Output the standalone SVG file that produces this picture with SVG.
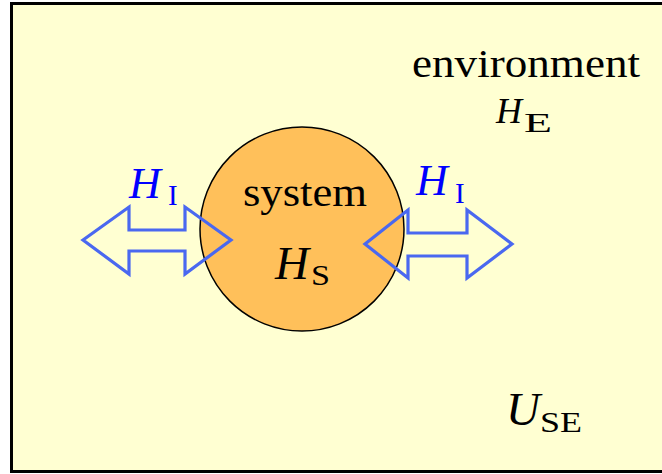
<svg xmlns="http://www.w3.org/2000/svg" width="662" height="474" viewBox="0 0 662 474">
<style>
text{font-family:"Liberation Serif","Times New Roman",serif;fill:#000}
.m{font-style:italic}
.up{font-style:normal}
.blue{fill:#0000ff}
.arr{fill:none;stroke:#4a68f0;stroke-width:3.2;stroke-linejoin:miter}
</style>
<rect x="0" y="0" width="662" height="474" fill="#ffffff"/>
<g id="environment">
<rect x="11.5" y="3.5" width="660" height="468" fill="#ffffd2" stroke="#000" stroke-width="3"/>
<text x="412" y="77" font-size="39" textLength="228" lengthAdjust="spacingAndGlyphs">environment</text>
<text class="m" x="496" y="123" font-size="36">H</text>
<text class="up" x="524" y="132" font-size="27" textLength="28" lengthAdjust="spacingAndGlyphs">E</text>
<text class="m" x="506" y="425" font-size="47">U</text>
<text class="up" x="540" y="432" font-size="30" textLength="42" lengthAdjust="spacingAndGlyphs">SE</text>
</g>
<g id="system">
<circle cx="302" cy="229" r="102" fill="#ffc05a" stroke="#000" stroke-width="1.5"/>
<text x="243" y="206" font-size="39" textLength="124" lengthAdjust="spacingAndGlyphs">system</text>
<text class="m" x="275" y="279" font-size="47">H</text>
<text class="up" x="311" y="285" font-size="30" textLength="19" lengthAdjust="spacingAndGlyphs">S</text>
</g>
<g id="connectors">
<path class="arr" d="M83,240 L129,207 L129,230 L185,230 L185,207 L231,240 L185,274 L185,251 L129,251 L129,274 Z"/>
<path class="arr" d="M365,244 L408,210 L408,233 L467,233 L467,210 L512,244 L467,278 L467,256 L408,256 L408,278 Z"/>
</g>
<g id="interaction-left">
<text class="m blue" x="129" y="198" font-size="44">H</text>
<text class="up blue" x="168" y="205" font-size="29">I</text>
</g>
<g id="interaction-right">
<text class="m blue" x="416" y="195" font-size="44">H</text>
<text class="up blue" x="455" y="203" font-size="29">I</text>
</g>
</svg>
